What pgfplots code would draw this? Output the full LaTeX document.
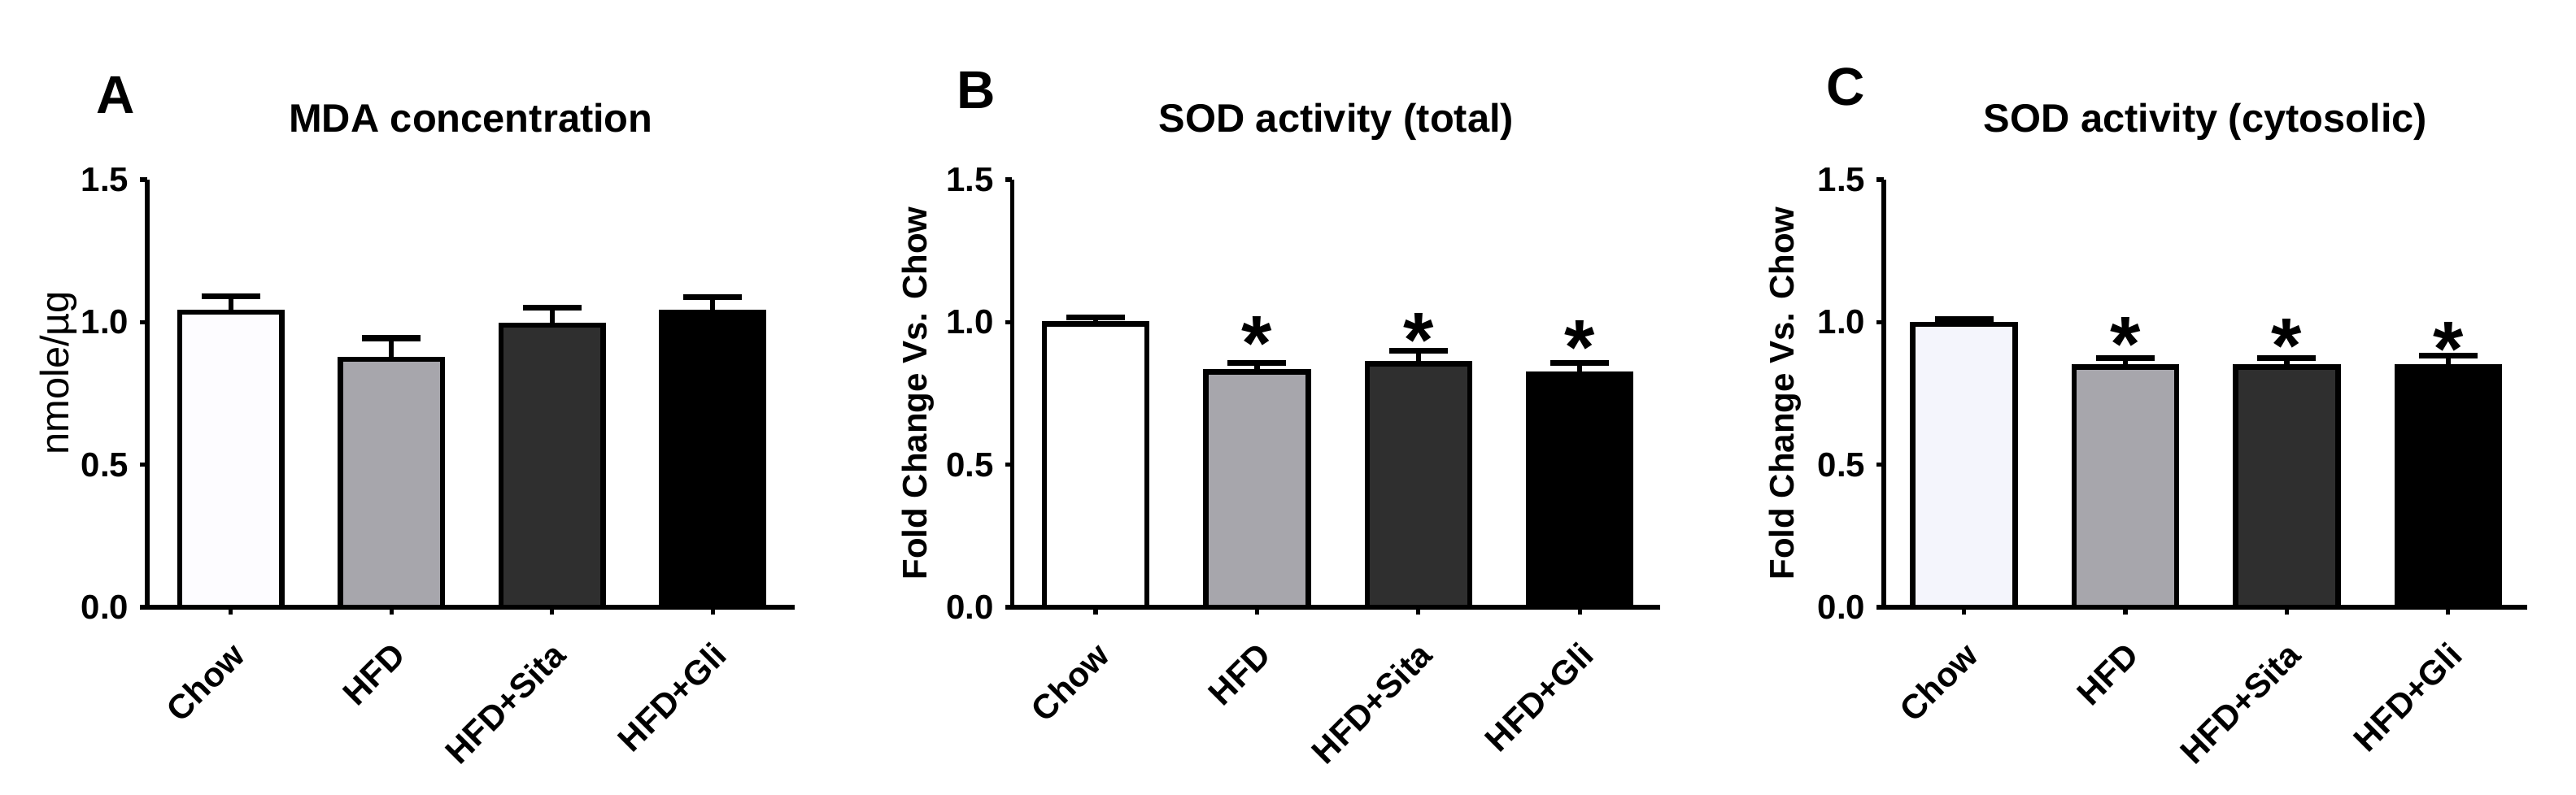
\documentclass[border=0pt]{standalone}
\usepackage{fontspec}
\setmainfont{Liberation Sans}
\usepackage{pgfplots}
\pgfplotsset{compat=1.18}

\definecolor{chowA}{HTML}{FDFCFF}
\definecolor{chowC}{HTML}{F4F5FC}
\definecolor{hfd}{HTML}{A7A6AC}
\definecolor{sita}{HTML}{2F2F2F}
\definecolor{gli}{HTML}{000000}

\pgfplotsset{
  panel/.style={
    scale only axis,
    height=131.5pt,
    ymin=0, ymax=1.5,
    ytick={0,0.5,1,1.5},
    yticklabels={0.0,0.5,1.0,1.5},
    xtick={0,1,2,3},
    xticklabels={Chow,HFD,HFD+Sita,HFD+Gli},
    axis lines=left,
    axis line style={-, line width=1.3pt, black},
    tick align=outside,
    major tick length=2.2pt,
    tick style={line width=1.3pt, black},
    ticklabel style={font=\fontsize{10.5}{12}\selectfont\bfseries},
    xticklabel style={xshift=4.75pt, yshift=-8.25pt, rotate=45, anchor=east},
    title style={at={(0.5,1)}, anchor=base, yshift=8.75pt,
      font=\fontsize{12.2}{14}\selectfont\bfseries},
    ylabel style={font=\fontsize{10.5}{12}\selectfont\bfseries},
    clip=false,
  },
  bar/.style={ybar, bar width=0.635, draw=black, line width=1.6pt, fill=#1,
    error bars/.cd, y dir=plus, y explicit,
    error mark=|,
    error bar style={line width=1.6pt, black},
    error mark options={mark size=9pt, line width=1.8pt, black}},
  stars/.style={draw=none, mark=none, nodes near coords={*},
    every node near coord/.append style={anchor=base, yshift=-11.8pt, inner sep=0pt,
      font=\fontsize{24}{24}\selectfont\bfseries}},
}

\begin{document}
\begin{tikzpicture}
\path[use as bounding box] (0,0) rectangle (791.75pt,244.25pt);

% ---- A: MDA concentration
\begin{axis}[panel, at={(45.25pt,57.5pt)}, anchor=south west,
  width=199pt, xmin=-0.52, xmax=3.51,
  title={MDA concentration},
  ylabel={nmole/µg},
  ylabel style={at={(axis description cs:-0.137,0.548)}, anchor=center, rotate=0,
    font=\fontsize{12.2}{14}\selectfont}]
\addplot[bar=chowA] coordinates {(0,1.036) +- (0,0.055)};
\addplot[bar=hfd]   coordinates {(1,0.870) +- (0,0.074)};
\addplot[bar=sita]  coordinates {(2,0.989) +- (0,0.062)};
\addplot[bar=gli]   coordinates {(3,1.036) +- (0,0.053)};
\end{axis}

% ---- B: SOD total
\begin{axis}[panel, at={(311.1pt,57.5pt)}, anchor=south west,
  width=199.25pt, xmin=-0.517, xmax=3.5,
  title={SOD activity (total)},
  ylabel={Fold Change Vs. Chow},
  ylabel style={at={(axis description cs:-0.1455,0.5)}, anchor=center, rotate=0}]
\addplot[bar=white] coordinates {(0,0.994) +- (0,0.023)};
\addplot[bar=hfd]   coordinates {(1,0.826) +- (0,0.031)};
\addplot[bar=sita]  coordinates {(2,0.854) +- (0,0.046)};
\addplot[bar=gli]   coordinates {(3,0.819) +- (0,0.038)};
\addplot[stars] coordinates {(1,0.965) (2,0.978) (3,0.953)};
\end{axis}

% ---- C: SOD cytosolic
\begin{axis}[panel, at={(579pt,57.5pt)}, anchor=south west,
  width=197.75pt, xmin=-0.497, xmax=3.49,
  title={SOD activity (cytosolic)},
  ylabel={Fold Change Vs. Chow},
  ylabel style={at={(axis description cs:-0.153,0.5)}, anchor=center, rotate=0}]
\addplot[bar=chowC] coordinates {(0,0.993) +- (0,0.018)};
\addplot[bar=hfd]   coordinates {(1,0.843) +- (0,0.030)};
\addplot[bar=sita]  coordinates {(2,0.843) +- (0,0.030)};
\addplot[bar=gli]   coordinates {(3,0.843) +- (0,0.039)};
\addplot[stars] coordinates {(1,0.963) (2,0.956) (3,0.947)};
\end{axis}

% panel letters
\begin{scope}[every node/.style={anchor=base west, inner sep=0pt,
    font=\fontsize{16.4}{18}\selectfont\bfseries}]
\node at (29.5pt,209.25pt) {A};
\node at (294pt,211pt) {B};
\node at (561.25pt,211.75pt) {C};
\end{scope}
\end{tikzpicture}
\end{document}
